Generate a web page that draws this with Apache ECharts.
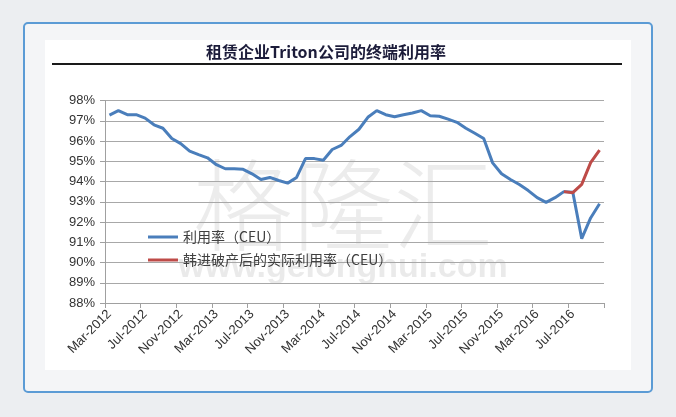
<!DOCTYPE html>
<html><head><meta charset="utf-8">
<script src="https://cdn.jsdelivr.net/npm/echarts@6/dist/echarts.min.js"></script>
<style>html,body{margin:0;padding:0;background:#eceef1;}#c{width:676px;height:417px;}</style>
</head><body><div id="c"></div>
<script>
const categories = [
 'Mar-2012','Apr-2012','May-2012','Jun-2012','Jul-2012','Aug-2012','Sep-2012','Oct-2012','Nov-2012','Dec-2012',
 'Jan-2013','Feb-2013','Mar-2013','Apr-2013','May-2013','Jun-2013','Jul-2013','Aug-2013','Sep-2013','Oct-2013',
 'Nov-2013','Dec-2013','Jan-2014','Feb-2014','Mar-2014','Apr-2014','May-2014','Jun-2014','Jul-2014','Aug-2014',
 'Sep-2014','Oct-2014','Nov-2014','Dec-2014','Jan-2015','Feb-2015','Mar-2015','Apr-2015','May-2015','Jun-2015',
 'Jul-2015','Aug-2015','Sep-2015','Oct-2015','Nov-2015','Dec-2015','Jan-2016','Feb-2016','Mar-2016','Apr-2016',
 'May-2016','Jun-2016','Jul-2016','Aug-2016','Sep-2016','Oct-2016'
];
const utilization = [
 97.28,97.5,97.3,97.3,97.13,96.8,96.63,96.12,95.87,95.5,
 95.33,95.17,94.83,94.63,94.63,94.6,94.38,94.1,94.2,94.05,
 93.92,94.2,95.13,95.13,95.05,95.58,95.78,96.22,96.58,97.17,
 97.5,97.3,97.2,97.3,97.38,97.5,97.25,97.22,97.08,96.92,
 96.63,96.38,96.12,94.92,94.38,94.1,93.85,93.55,93.2,92.97,
 93.2,93.5,93.47,91.18,92.2,92.9
];
const adjusted = [
 null,null,null,null,null,null,null,null,null,null,
 null,null,null,null,null,null,null,null,null,null,
 null,null,null,null,null,null,null,null,null,null,
 null,null,null,null,null,null,null,null,null,null,
 null,null,null,null,null,null,null,null,null,null,
 null,93.5,93.45,93.86,94.93,95.55
];
const seriesNames = ['利用率（CEU）','韩进破产后的实际利用率（CEU）'];
const titleText = '租赁企业Triton公司的终端利用率';

const chart = echarts.init(document.getElementById('c'), null, {renderer:'canvas'});
chart.setOption({
  animation:false,
  backgroundColor:'#eceef1',
  graphic:[
    {type:'rect', z:-10, shape:{x:24,y:23,width:628,height:369,r:4}, style:{fill:'#f4f5f7',stroke:'#5b9bd5',lineWidth:2}},
    {type:'rect', z:-9, shape:{x:45,y:40,width:586,height:330}, style:{fill:'#ffffff'}},
    {type:'text', z:10, x:326, y:52, style:{text:titleText, fill:'#1c1c3a', font:'bold 16px "Noto Sans CJK SC", sans-serif', textAlign:'center', textVerticalAlign:'middle'}},
    {type:'line', z:10, shape:{x1:52,y1:64,x2:622,y2:64}, style:{stroke:'#1a1a1a',lineWidth:2}},
    {type:'text', z:-1, x:343, y:205, style:{text:'格隆汇', fill:'rgba(185,185,185,0.28)', font:'300 100px "Noto Sans CJK SC", sans-serif', textAlign:'center', textVerticalAlign:'middle'}},
    {type:'text', z:-1, x:343, y:268, style:{text:'www.gelonghui.com', fill:'rgba(185,185,185,0.3)', font:'bold 34px "Liberation Sans", Arial, sans-serif', textAlign:'center', textVerticalAlign:'middle'}}
  ],
  legend:{
    orient:'vertical', left:143, top:224, itemWidth:30, itemHeight:3, itemGap:7, icon:'rect',
    textStyle:{fontSize:14, color:'#404040', fontFamily:'"Noto Sans CJK SC", "Liberation Sans", sans-serif', lineHeight:16},
    data:seriesNames
  },
  grid:{left:105, right:72, top:100.5, bottom:114, containLabel:false},
  xAxis:{
    type:'category', data:categories, boundaryGap:true,
    axisLine:{lineStyle:{color:'#a0a0a0',width:1}},
    axisTick:{show:true, interval:3, length:5, lineStyle:{color:'#a0a0a0'}},
    axisLabel:{interval:3, rotate:45, fontSize:13, color:'#333', margin:9, fontFamily:'"Liberation Sans", Arial, sans-serif'},
    splitLine:{show:false}
  },
  yAxis:{
    type:'value', min:88, max:98, interval:1,
    axisLine:{show:true, lineStyle:{color:'#a0a0a0'}},
    axisTick:{show:true, length:5, lineStyle:{color:'#a0a0a0'}},
    axisLabel:{formatter:'{value}%', fontSize:13, color:'#333', margin:10, fontFamily:'"Liberation Sans", Arial, sans-serif'},
    splitLine:{lineStyle:{color:'#a8a8a8', width:1}}
  },
  series:[
    {name:seriesNames[0], type:'line', data:utilization, symbol:'none', showSymbol:false, z:3,
     lineStyle:{color:'#4a7ebb', width:3}, itemStyle:{color:'#4a7ebb'}},
    {name:seriesNames[1], type:'line', data:adjusted, symbol:'none', showSymbol:false, z:4,
     lineStyle:{color:'#be4b48', width:3}, itemStyle:{color:'#be4b48'}}
  ]
});
</script></body></html>
